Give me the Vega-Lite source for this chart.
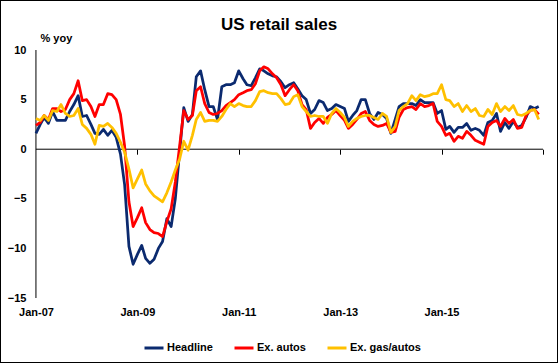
{
 "$schema": "https://vega.github.io/schema/vega-lite/v6.json",
 "width": 558, "height": 363,
 "autosize": {"type": "none"},
 "padding": 0,
 "background": "white",
 "config": {"font": "Liberation Sans", "view": {"stroke": "black", "strokeWidth": 2, "fill": "white"}},
 "title": {"text": "US retail sales", "fontSize": 17, "fontWeight": "bold", "color": "black", "anchor": "middle", "frame": "group", "offset": -47, "baseline": "alphabetic"},
 "layer": [
  {
   "data": {"values": [{}]},
   "mark": {"type": "rule", "color": "black", "strokeWidth": 1},
   "encoding": {
    "x": {"datum": {"year": 2007, "month": 1, "date": 1, "utc": true}, "type": "temporal",
      "scale": {"type": "utc", "domain": [{"year": 2006, "month": 4, "date": 17, "utc": true}, {"year": 2017, "month": 4, "date": 19, "utc": true}]},
      "axis": {"orient": "bottom", "offset": -60, "values": [{"year": 2007, "month": 1, "date": 1, "utc": true}, {"year": 2009, "month": 1, "date": 1, "utc": true}, {"year": 2011, "month": 1, "date": 1, "utc": true}, {"year": 2013, "month": 1, "date": 1, "utc": true}, {"year": 2015, "month": 1, "date": 1, "utc": true}],
        "domain": false, "ticks": false, "grid": false, "labelPadding": 3, "labelFlush": false, "labelOverlap": false,
        "labelExpr": "utcFormat(datum.value, '%b-%y')", "labelFontSize": 11, "labelFontWeight": "bold", "labelColor": "black", "title": null}},
    "y": {"datum": -15, "type": "quantitative",
      "scale": {"domain": [-21.55, 15.04], "nice": false, "zero": false},
      "axis": {"orient": "left", "offset": -36, "values": [-15, -10, -5, 0, 5, 10], "domain": false, "ticks": false, "grid": false,
        "labelPadding": 10, "labelFontSize": 11, "labelFontWeight": "bold", "labelColor": "black",
        "title": "% yoy", "titleAngle": 0, "titleX": 4, "titleY": 38, "titleAlign": "left", "titleBaseline": "middle", "titleFontSize": 11, "titleFontWeight": "bold", "titleColor": "black"}},
    "y2": {"datum": 10}
   }
  },
  {
   "data": {"values": [{}]},
   "mark": {"type": "rule", "color": "black", "strokeWidth": 1},
   "encoding": {
    "x": {"datum": {"year": 2007, "month": 1, "date": 1, "utc": true}, "type": "temporal",
      "scale": {"type": "utc", "domain": [{"year": 2006, "month": 4, "date": 17, "utc": true}, {"year": 2017, "month": 4, "date": 19, "utc": true}]},
      "axis": {"orient": "bottom", "offset": -213.8, "values": [{"year": 2009, "month": 1, "date": 1, "utc": true}, {"year": 2011, "month": 1, "date": 1, "utc": true}, {"year": 2013, "month": 1, "date": 1, "utc": true}, {"year": 2015, "month": 1, "date": 1, "utc": true}, {"year": 2017, "month": 1, "date": 1, "utc": true}],
        "domain": false, "ticks": true, "tickSize": 5, "tickColor": "black", "tickWidth": 1, "labels": false, "grid": false, "title": null}},
    "x2": {"datum": {"year": 2017, "month": 1, "date": 1, "utc": true}},
    "y": {"datum": 0, "type": "quantitative"}
   }
  },
  {
   "data": {"values": [
    {"d":"2007-01-01","h":1.6,"a":2.4,"g":3.1},
    {"d":"2007-02-01","h":2.5,"a":2.7,"g":2.9},
    {"d":"2007-03-01","h":3.2,"a":3.4,"g":3.4},
    {"d":"2007-04-01","h":2.6,"a":3.0,"g":2.9},
    {"d":"2007-05-01","h":3.8,"a":4.1,"g":3.9},
    {"d":"2007-06-01","h":2.9,"a":4.1,"g":3.8},
    {"d":"2007-07-01","h":2.9,"a":3.8,"g":4.5},
    {"d":"2007-08-01","h":2.9,"a":4.0,"g":3.6},
    {"d":"2007-09-01","h":3.8,"a":5.0,"g":3.3},
    {"d":"2007-10-01","h":4.5,"a":5.6,"g":3.4},
    {"d":"2007-11-01","h":5.4,"a":6.9,"g":4.1},
    {"d":"2007-12-01","h":3.3,"a":4.9,"g":2.5},
    {"d":"2008-01-01","h":3.4,"a":5.0,"g":2.1},
    {"d":"2008-02-01","h":2.5,"a":4.3,"g":1.5},
    {"d":"2008-03-01","h":1.6,"a":3.3,"g":0.5},
    {"d":"2008-04-01","h":1.5,"a":4.5,"g":2.4},
    {"d":"2008-05-01","h":2.0,"a":4.5,"g":2.3},
    {"d":"2008-06-01","h":1.4,"a":5.6,"g":2.6},
    {"d":"2008-07-01","h":1.9,"a":5.5,"g":2.2},
    {"d":"2008-08-01","h":1.2,"a":5.0,"g":1.6},
    {"d":"2008-09-01","h":-0.5,"a":3.5,"g":0.7},
    {"d":"2008-10-01","h":-3.6,"a":0.3,"g":-0.3},
    {"d":"2008-11-01","h":-9.8,"a":-5.3,"g":-2.0},
    {"d":"2008-12-01","h":-11.6,"a":-7.8,"g":-3.9},
    {"d":"2009-01-01","h":-10.6,"a":-6.9,"g":-3.0},
    {"d":"2009-02-01","h":-9.7,"a":-5.9,"g":-2.1},
    {"d":"2009-03-01","h":-11.0,"a":-7.4,"g":-3.5},
    {"d":"2009-04-01","h":-11.5,"a":-8.1,"g":-4.2},
    {"d":"2009-05-01","h":-11.1,"a":-8.4,"g":-4.7},
    {"d":"2009-06-01","h":-10.0,"a":-8.5,"g":-5.0},
    {"d":"2009-07-01","h":-9.3,"a":-8.8,"g":-5.3},
    {"d":"2009-08-01","h":-7.0,"a":-7.3,"g":-4.4},
    {"d":"2009-09-01","h":-7.8,"a":-6.0,"g":-3.3},
    {"d":"2009-10-01","h":-5.0,"a":-3.3,"g":-2.1},
    {"d":"2009-11-01","h":-0.3,"a":0.3,"g":-1.0},
    {"d":"2009-12-01","h":4.2,"a":3.9,"g":0.8},
    {"d":"2010-01-01","h":2.8,"a":3.0,"g":-0.1},
    {"d":"2010-02-01","h":3.5,"a":3.4,"g":1.4},
    {"d":"2010-03-01","h":7.3,"a":5.9,"g":3.0},
    {"d":"2010-04-01","h":7.9,"a":6.3,"g":3.7},
    {"d":"2010-05-01","h":6.0,"a":4.6,"g":2.8},
    {"d":"2010-06-01","h":4.3,"a":3.7,"g":2.9},
    {"d":"2010-07-01","h":4.3,"a":3.5,"g":2.9},
    {"d":"2010-08-01","h":3.0,"a":3.6,"g":2.8},
    {"d":"2010-09-01","h":6.3,"a":3.9,"g":3.3},
    {"d":"2010-10-01","h":6.5,"a":4.4,"g":4.0},
    {"d":"2010-11-01","h":6.5,"a":4.7,"g":4.6},
    {"d":"2010-12-01","h":6.7,"a":5.0,"g":4.3},
    {"d":"2011-01-01","h":7.9,"a":5.5,"g":4.6},
    {"d":"2011-02-01","h":7.1,"a":5.7,"g":4.4},
    {"d":"2011-03-01","h":6.5,"a":5.9,"g":4.3},
    {"d":"2011-04-01","h":6.4,"a":6.0,"g":4.3},
    {"d":"2011-05-01","h":7.2,"a":6.6,"g":4.9},
    {"d":"2011-06-01","h":8.1,"a":7.9,"g":5.8},
    {"d":"2011-07-01","h":7.9,"a":8.3,"g":5.9},
    {"d":"2011-08-01","h":7.6,"a":8.1,"g":5.7},
    {"d":"2011-09-01","h":7.4,"a":7.6,"g":5.6},
    {"d":"2011-10-01","h":7.3,"a":7.2,"g":5.6},
    {"d":"2011-11-01","h":6.8,"a":6.5,"g":5.1},
    {"d":"2011-12-01","h":6.2,"a":5.4,"g":4.5},
    {"d":"2012-01-01","h":6.5,"a":6.0,"g":4.6},
    {"d":"2012-02-01","h":6.7,"a":6.5,"g":5.3},
    {"d":"2012-03-01","h":6.1,"a":5.9,"g":5.5},
    {"d":"2012-04-01","h":5.4,"a":4.5,"g":4.3},
    {"d":"2012-05-01","h":5.0,"a":4.0,"g":3.8},
    {"d":"2012-06-01","h":3.6,"a":2.1,"g":3.3},
    {"d":"2012-07-01","h":4.0,"a":2.7,"g":3.4},
    {"d":"2012-08-01","h":4.9,"a":3.1,"g":3.3},
    {"d":"2012-09-01","h":4.7,"a":2.6,"g":3.3},
    {"d":"2012-10-01","h":3.9,"a":3.2,"g":2.6},
    {"d":"2012-11-01","h":4.1,"a":3.5,"g":3.6},
    {"d":"2012-12-01","h":4.5,"a":3.9,"g":4.1},
    {"d":"2013-01-01","h":4.3,"a":3.4,"g":3.7},
    {"d":"2013-02-01","h":4.1,"a":2.9,"g":3.2},
    {"d":"2013-03-01","h":2.8,"a":2.1,"g":2.3},
    {"d":"2013-04-01","h":3.4,"a":2.5,"g":2.8},
    {"d":"2013-05-01","h":3.9,"a":3.0,"g":3.1},
    {"d":"2013-06-01","h":5.0,"a":3.6,"g":3.3},
    {"d":"2013-07-01","h":5.0,"a":3.8,"g":3.4},
    {"d":"2013-08-01","h":3.6,"a":2.9,"g":3.4},
    {"d":"2013-09-01","h":3.0,"a":2.5,"g":3.2},
    {"d":"2013-10-01","h":3.7,"a":2.3,"g":3.0},
    {"d":"2013-11-01","h":3.5,"a":2.4,"g":3.6},
    {"d":"2013-12-01","h":3.1,"a":2.6,"g":3.3},
    {"d":"2014-01-01","h":1.6,"a":1.7,"g":1.7},
    {"d":"2014-02-01","h":3.0,"a":1.8,"g":2.3},
    {"d":"2014-03-01","h":4.3,"a":3.2,"g":3.9},
    {"d":"2014-04-01","h":4.6,"a":4.0,"g":4.3},
    {"d":"2014-05-01","h":4.6,"a":4.2,"g":4.6},
    {"d":"2014-06-01","h":4.6,"a":4.3,"g":5.4},
    {"d":"2014-07-01","h":4.4,"a":4.0,"g":4.9},
    {"d":"2014-08-01","h":5.0,"a":4.6,"g":5.5},
    {"d":"2014-09-01","h":4.7,"a":4.3,"g":5.3},
    {"d":"2014-10-01","h":4.7,"a":4.4,"g":5.4},
    {"d":"2014-11-01","h":4.7,"a":4.6,"g":5.6},
    {"d":"2014-12-01","h":3.6,"a":2.8,"g":5.6},
    {"d":"2015-01-01","h":3.9,"a":2.3,"g":6.5},
    {"d":"2015-02-01","h":2.0,"a":1.4,"g":5.0},
    {"d":"2015-03-01","h":2.3,"a":1.6,"g":4.9},
    {"d":"2015-04-01","h":1.7,"a":0.8,"g":4.3},
    {"d":"2015-05-01","h":2.2,"a":1.3,"g":4.6},
    {"d":"2015-06-01","h":2.2,"a":1.1,"g":3.8},
    {"d":"2015-07-01","h":2.6,"a":1.8,"g":4.4},
    {"d":"2015-08-01","h":1.9,"a":1.4,"g":3.8},
    {"d":"2015-09-01","h":2.1,"a":0.9,"g":4.1},
    {"d":"2015-10-01","h":1.9,"a":0.7,"g":3.4},
    {"d":"2015-11-01","h":1.4,"a":0.5,"g":3.3},
    {"d":"2015-12-01","h":2.7,"a":2.3,"g":4.0},
    {"d":"2016-01-01","h":2.9,"a":2.7,"g":3.5},
    {"d":"2016-02-01","h":3.6,"a":2.9,"g":4.6},
    {"d":"2016-03-01","h":1.8,"a":2.3,"g":3.8},
    {"d":"2016-04-01","h":2.7,"a":3.1,"g":4.3},
    {"d":"2016-05-01","h":2.1,"a":2.6,"g":3.9},
    {"d":"2016-06-01","h":2.8,"a":3.0,"g":4.4},
    {"d":"2016-07-01","h":2.2,"a":2.1,"g":3.5},
    {"d":"2016-08-01","h":2.4,"a":2.2,"g":3.4},
    {"d":"2016-09-01","h":3.2,"a":3.4,"g":3.6},
    {"d":"2016-10-01","h":4.3,"a":3.9,"g":3.9},
    {"d":"2016-11-01","h":4.1,"a":4.0,"g":4.0},
    {"d":"2016-12-01","h":4.3,"a":3.5,"g":3.0}
   ]},
   "transform": [{"fold": ["h", "a", "g"], "as": ["s", "v"]}],
   "mark": {"type": "line", "strokeWidth": 2.75, "strokeJoin": "round"},
   "encoding": {
    "x": {"field": "d", "type": "temporal", "axis": null,
      "scale": {"type": "utc", "domain": [{"year": 2006, "month": 4, "date": 17, "utc": true}, {"year": 2017, "month": 4, "date": 19, "utc": true}]}},
    "y": {"field": "v", "type": "quantitative"},
    "color": {"field": "s", "type": "nominal",
      "scale": {"domain": ["h", "a", "g"], "range": ["#0b2a6f", "#ff0000", "#ffc000"]},
      "legend": {"orient": "none", "legendX": 143, "legendY": 337, "direction": "horizontal", "title": null,
        "symbolType": "stroke", "symbolStrokeWidth": 3, "symbolSize": 361, "labelFontSize": 11, "labelFontWeight": "bold", "labelColor": "black",
        "labelOffset": 2, "columnPadding": 15,
        "labelExpr": "datum.label == 'h' ? 'Headline' : datum.label == 'a' ? 'Ex. autos' : 'Ex. gas/autos'"}}
   }
  }
 ],
 "resolve": {"axis": {"x": "independent"}}
}
